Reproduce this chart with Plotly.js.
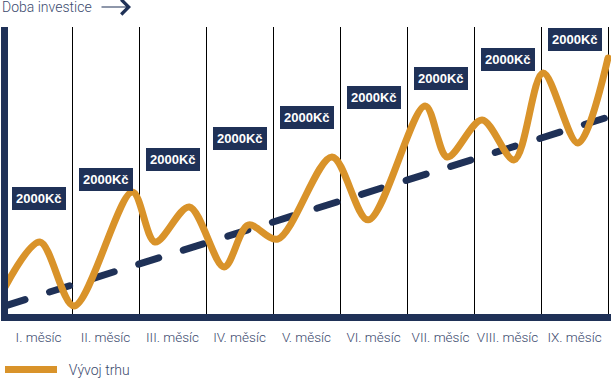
<!DOCTYPE html>
<html><head><meta charset="utf-8">
<script src="https://cdn.plot.ly/plotly-3.0.1.min.js"></script>
<style>
html,body{margin:0;padding:0;background:#fff}
#chart{width:611px;height:378px}
.scatterlayer .js-line{stroke-linecap:round;stroke-linejoin:round}
</style>
</head><body><div id="chart"></div>
<script>
// Category labels (months)
const categories = ["I. měsíc","II. měsíc","III. měsíc","IV. měsíc","V. měsíc","VI. měsíc","VII. měsíc","VIII. měsíc","IX. měsíc"];
// Market development (Vývoj trhu), x in month units, y in relative units 0-100
const marketX = [0, 0.52, 1.03, 1.90, 2.24, 2.75, 3.27, 3.63, 4.07, 4.88, 5.42, 6.27, 6.60, 7.12, 7.60, 8.03, 8.55, 9.0];
const marketY = [9.4, 25.1, 2.8, 42.5, 25.1, 37.3, 16.4, 31.0, 26.1, 54.7, 32.8, 72.5, 54.7, 67.6, 53.7, 84.0, 59.6, 89.2];
// Investment trend (dashed)
const trendX = [0, 9];
const trendY = [2.8, 68.6];
// Monthly deposits
const depositText = "2000Kč";
const depositY = [40.2, 47.0, 53.8, 61.3, 68.3, 75.3, 81.9, 88.7, 95.6];
const titleText = "Doba investice";
const legendName = "Vývoj trhu";

const NAVY = "#1f3157";
const ORANGE = "#d9932a";
const TXT = "#3b4a6e";

const catCenters = categories.map((c, i) => i + 0.5);
const boundaries = categories.map((c, i) => i + 1);

const traces = [
  {x: trendX, y: trendY, mode: "lines", showlegend: false, hoverinfo: "skip",
   line: {color: NAVY, width: 7, dash: "21px,25.7px"}},
  {x: marketX, y: marketY, mode: "lines", name: "\u00a0\u00a0" + legendName,
   line: {color: ORANGE, width: 7, shape: "spline", smoothing: 0.9}}
];

const annotations = depositY.map((v, i) => ({
  x: catCenters[i], y: v, xref: "x", yref: "y", text: "<b>" + depositText + "</b>",
  showarrow: false, bgcolor: NAVY, borderpad: 4, borderwidth: 0,
  font: {family: "Liberation Sans, Arial, sans-serif", size: 13, color: "#ffffff"}
}));
annotations.push({
  xref: "paper", yref: "paper", x: (131 - 8) / 603, y: (314 - 7) / 287,
  ax: -31, ay: 0, text: "", showarrow: true,
  arrowhead: 4, arrowsize: 2.4, arrowwidth: 1.2, arrowcolor: NAVY, standoff: 0
});

const layout = {
  width: 611, height: 378,
  margin: {l: 8, r: 0, t: 27, b: 64, pad: 0, autoexpand: false},
  paper_bgcolor: "#fff", plot_bgcolor: "#fff",
  title: {text: titleText, x: 2 / 611, xanchor: "left", xref: "container",
          y: 1 - 7.5 / 378, yanchor: "middle", yref: "container",
          font: {family: "Roboto, Liberation Sans, sans-serif", weight: 300, size: 14, color: TXT}},
  xaxis: {range: [3 / 67, 3 / 67 + 603 / 67], fixedrange: true,
          tickmode: "array", tickvals: catCenters, ticktext: categories,
          showgrid: false, zeroline: false, ticks: "", ticklabelstandoff: 5,
          showline: true, linecolor: NAVY, linewidth: 7,
          tickfont: {family: "Roboto, Liberation Sans, sans-serif", weight: 300, size: 13.5, color: TXT},
          minor: {tickmode: "array", tickvals: boundaries, showgrid: true, gridcolor: "#000", gridwidth: 1, ticks: ""}},
  yaxis: {range: [0, 100], fixedrange: true, showgrid: false, zeroline: false,
          showticklabels: false, ticks: "", showline: true, linecolor: NAVY, linewidth: 7},
  showlegend: true,
  legend: {x: -8 / 603, xanchor: "left", y: (314 - 354) / 287, yanchor: "top",
           bgcolor: "rgba(0,0,0,0)", itemwidth: 52,
           font: {family: "Roboto, Liberation Sans, sans-serif", weight: 300, size: 14, color: TXT}},
  annotations: annotations
};

Plotly.newPlot("chart", traces, layout, {displayModeBar: false, staticPlot: true});
</script>
</body></html>
